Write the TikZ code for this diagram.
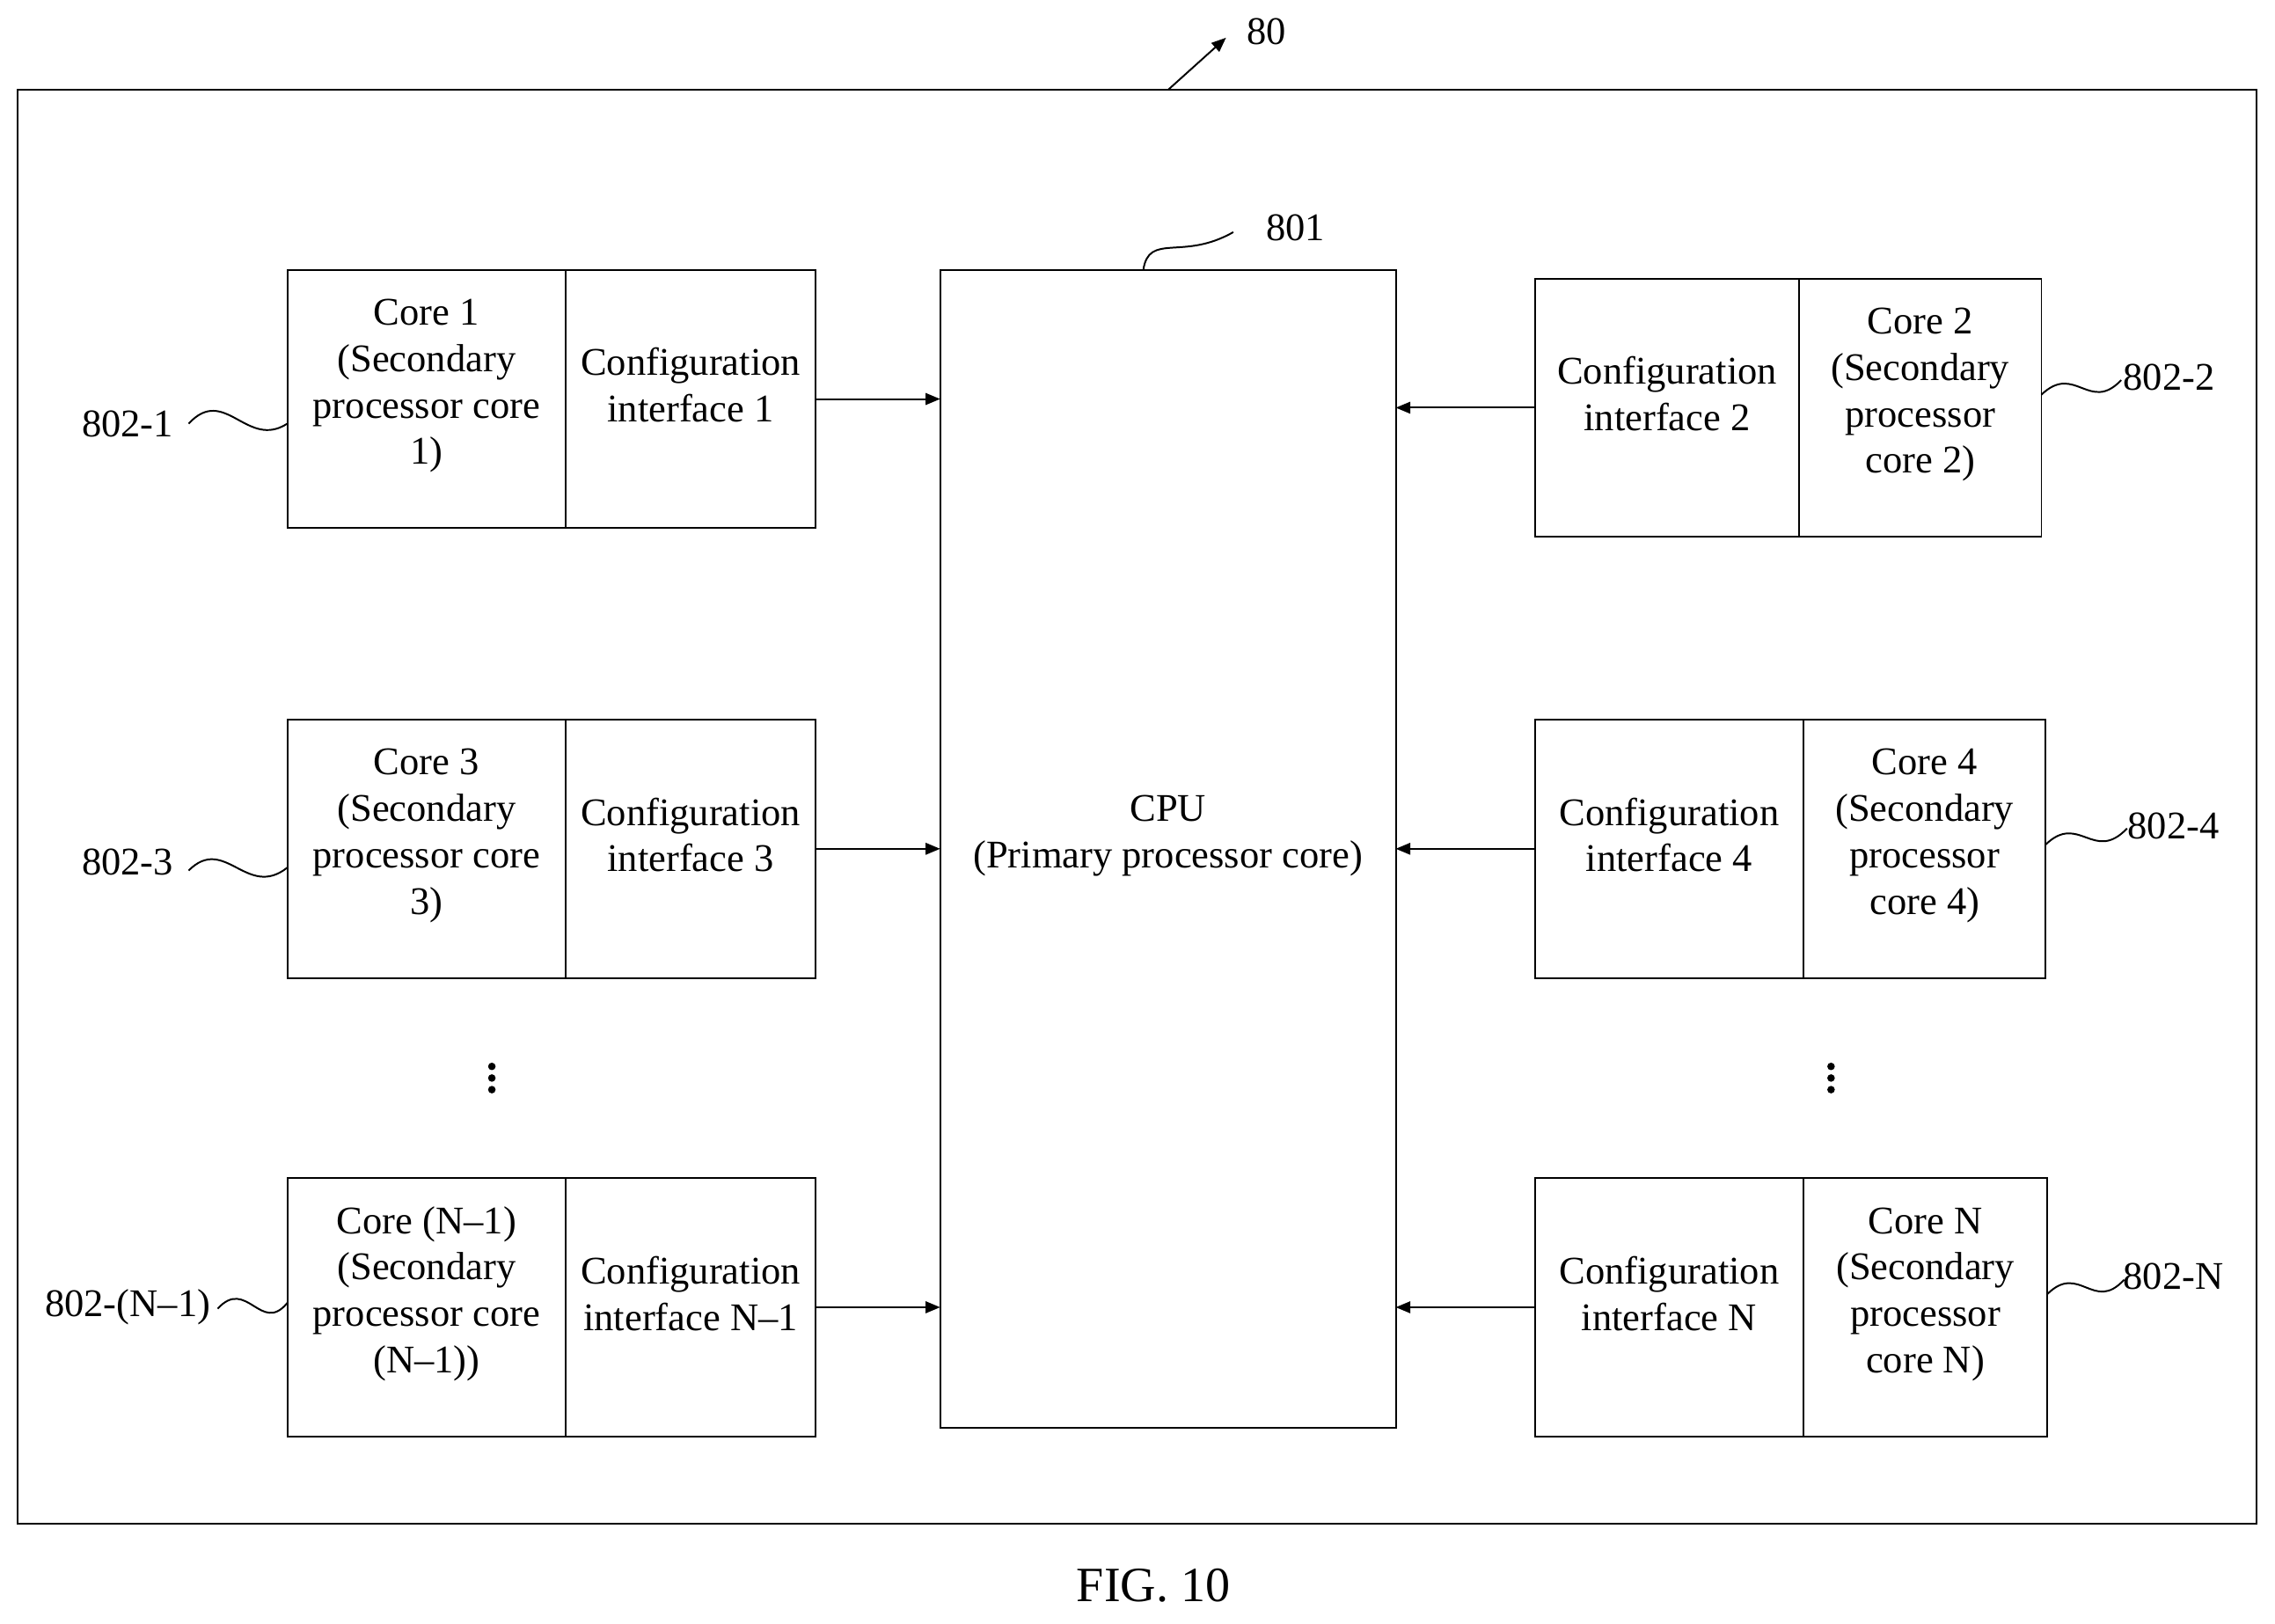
\documentclass[tikz,border=0pt]{standalone}
\usepackage{fontspec}
\setmainfont{Liberation Serif}
\usetikzlibrary{fit,arrows.meta}
\begin{document}
\begin{tikzpicture}[x=0.5pt,y=-0.5pt,
 box/.style={draw,line width=0.6pt,inner sep=0pt,align=center,font=\fontsize{13.5}{16}\selectfont},
 lab/.style={font=\fontsize{13.5}{16}\selectfont},
 arr/.style={-{Triangle[length=5pt,width=4pt]},line width=0.6pt},
 sq/.style={line width=0.6pt}]
\useasboundingbox (0,0) rectangle (1568,1119);
\node[box,fit={(12,62)(1555,1050)}] (outer) {};
\node[lab] (l80) at (873,22) {80};
\coordinate (a80) at (805,62);
\draw[arr] (a80) -- (845,26);
\node[box,fit={(648,186)(962,984)}] (cpu) {CPU\\(Primary processor core)};
\node[lab] (l801) at (893,157) {801};
\draw[sq] (788,186) .. controls (792,160) and (815,180) .. (850,160);
% left
\node[box,fit={(198,186)(390,364)}] (c1) {Core 1\\(Secondary\\processor core\\1)};
\node[box,fit={(390,186)(562,364)}] (i1) {Configuration\\interface 1};
\node[box,fit={(198,496)(390,674)}] (c3) {Core 3\\(Secondary\\processor core\\3)};
\node[box,fit={(390,496)(562,674)}] (i3) {Configuration\\interface 3};
\node[box,fit={(198,812)(390,990)}] (cn1) {Core (N--1)\\(Secondary\\processor core\\(N--1))};
\node[box,fit={(390,812)(562,990)}] (in1) {Configuration\\interface N--1};
\draw[arr] (562,275) -- (648,275);
\draw[arr] (562,585) -- (648,585);
\draw[arr] (562,901) -- (648,901);
% right
\node[box,fit={(1058,192)(1240,370)}] (i2) {Configuration\\interface 2};
\node[box,fit={(1240,192)(1407,370)}] (c2) {Core 2\\(Secondary\\processor\\core 2)};
\node[box,fit={(1058,496)(1243,674)}] (i4) {Configuration\\interface 4};
\node[box,fit={(1243,496)(1410,674)}] (c4) {Core 4\\(Secondary\\processor\\core 4)};
\node[box,fit={(1058,812)(1243,990)}] (in) {Configuration\\interface N};
\node[box,fit={(1243,812)(1411,990)}] (cn) {Core N\\(Secondary\\processor\\core N)};
\draw[arr] (1058,281) -- (962,281);
\draw[arr] (1058,585) -- (962,585);
\draw[arr] (1058,901) -- (962,901);
% dots
\foreach \x in {339,1262}{\foreach \y in {735,743,751}{\fill (\x,\y) circle (1.3pt);}}
% ref labels
\node[lab] (r1) at (88,292) {802-1};
\draw[sq] (130,292) .. controls (155,265) and (170,310) .. (198,292);
\node[lab] (r3) at (88,594) {802-3};
\draw[sq] (130,600) .. controls (155,575) and (170,620) .. (198,598);
\node[lab] (rn1) at (88,901) {802-(N--1)};
\draw[sq] (150,902) .. controls (170,880) and (180,920) .. (198,898);
\node[lab] (r2) at (1495,260) {802-2};
\draw[sq] (1407,272) .. controls (1430,250) and (1440,285) .. (1462,262);
\node[lab] (r4) at (1498,569) {802-4};
\draw[sq] (1410,582) .. controls (1433,560) and (1443,595) .. (1466,571);
\node[lab] (rn) at (1498,880) {802-N};
\draw[sq] (1411,892) .. controls (1433,870) and (1443,905) .. (1464,882);
\node[font=\fontsize{17}{20}\selectfont] (fig) at (795,1093) {FIG. 10};
\end{tikzpicture}
\end{document}
